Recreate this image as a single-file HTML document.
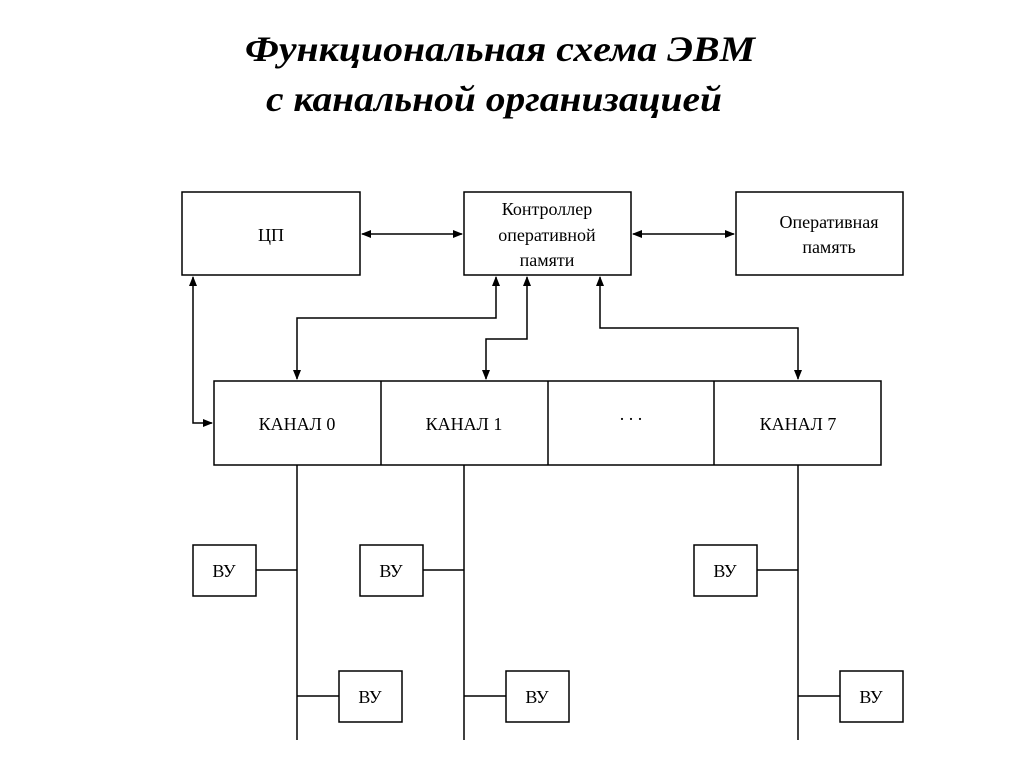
<!DOCTYPE html>
<html><head><meta charset="utf-8"><style>
body{margin:0;background:#fff;}
svg{display:block;}
text{font-family:"Liberation Serif",serif;fill:#000;}
</style></head><body>
<svg width="1024" height="767" viewBox="0 0 1024 767">
<defs>
<marker id="a" markerWidth="10" markerHeight="8" refX="9" refY="4" orient="auto-start-reverse" markerUnits="userSpaceOnUse"><path d="M0,0 L10,4 L0,8 z" fill="#000"/></marker>
</defs>
<text x="245" y="61" font-size="36" font-weight="bold" font-style="italic" textLength="510" lengthAdjust="spacingAndGlyphs">Функциональная схема ЭВМ</text>
<text x="266" y="111" font-size="36" font-weight="bold" font-style="italic" textLength="456" lengthAdjust="spacingAndGlyphs">с канальной организацией</text>
<g fill="none" stroke="#000" stroke-width="1.5">
<rect x="182" y="192" width="178" height="83"/>
<rect x="464" y="192" width="167" height="83"/>
<rect x="736" y="192" width="167" height="83"/>
<rect x="214" y="381" width="667" height="84"/>
<line x1="381" y1="381" x2="381" y2="465"/>
<line x1="548" y1="381" x2="548" y2="465"/>
<line x1="714" y1="381" x2="714" y2="465"/>
<line x1="362" y1="234" x2="462" y2="234" marker-start="url(#a)" marker-end="url(#a)"/>
<line x1="633" y1="234" x2="734" y2="234" marker-start="url(#a)" marker-end="url(#a)"/>
<polyline points="193,277 193,423 212,423" marker-start="url(#a)" marker-end="url(#a)"/>
<polyline points="496,277 496,318 297,318 297,379" marker-start="url(#a)" marker-end="url(#a)"/>
<polyline points="527,277 527,339 486,339 486,379" marker-start="url(#a)" marker-end="url(#a)"/>
<polyline points="600,277 600,328 798,328 798,379" marker-start="url(#a)" marker-end="url(#a)"/>
<line x1="297" y1="465" x2="297" y2="740"/>
<line x1="464" y1="465" x2="464" y2="740"/>
<line x1="798" y1="465" x2="798" y2="740"/>
<rect x="193" y="545" width="63" height="51"/><line x1="256" y1="570" x2="297" y2="570"/>
<rect x="360" y="545" width="63" height="51"/><line x1="423" y1="570" x2="464" y2="570"/>
<rect x="694" y="545" width="63" height="51"/><line x1="757" y1="570" x2="798" y2="570"/>
<rect x="339" y="671" width="63" height="51"/><line x1="297" y1="696" x2="339" y2="696"/>
<rect x="506" y="671" width="63" height="51"/><line x1="464" y1="696" x2="506" y2="696"/>
<rect x="840" y="671" width="63" height="51"/><line x1="798" y1="696" x2="840" y2="696"/>
</g>
<g font-size="18" text-anchor="middle">
<text x="271" y="241">ЦП</text>
<text x="547" y="215">Контроллер</text>
<text x="547" y="241">оперативной</text>
<text x="547" y="266">памяти</text>
<text x="829" y="228">Оперативная</text>
<text x="829" y="253">память</text>
<text x="297" y="430">КАНАЛ 0</text>
<text x="464" y="430">КАНАЛ 1</text>
<text x="631" y="420">. . .</text>
<text x="798" y="430">КАНАЛ 7</text>
<text x="224" y="577">ВУ</text>
<text x="391" y="577">ВУ</text>
<text x="725" y="577">ВУ</text>
<text x="370" y="703">ВУ</text>
<text x="537" y="703">ВУ</text>
<text x="871" y="703">ВУ</text>
</g>
</svg>
</body></html>
